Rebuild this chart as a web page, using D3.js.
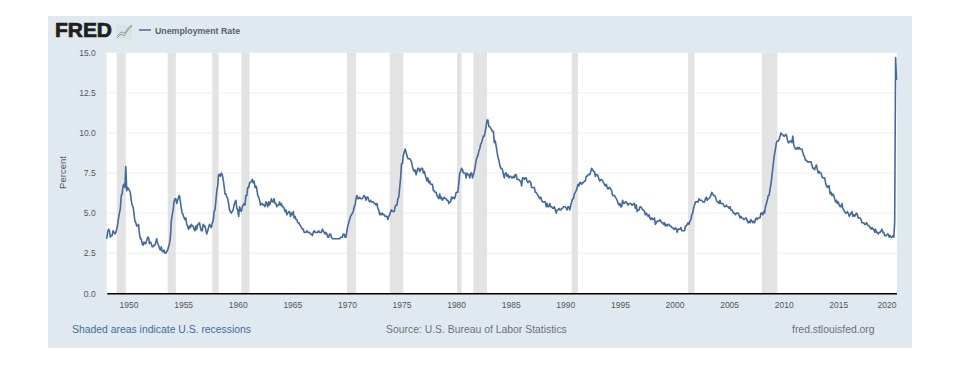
<!DOCTYPE html>
<html>
<head>
<meta charset="utf-8">
<script src="https://cdn.jsdelivr.net/npm/d3@7"></script>
<style>
  html, body { margin: 0; padding: 0; background: #fff; }
  svg { display: block; }
  text { font-family: "Liberation Sans", Arial, sans-serif; }
</style>
</head>
<body>
<div id="chart"></div>
<script>
// monthly rate, one row per year starting 1948
const startYear = 1948;
const rates = [
  3.4,3.8,4.0,3.9,3.5,3.6,3.6,3.9,3.8,3.7,3.8,4.0,
  4.3,4.7,5.0,5.3,6.1,6.2,6.7,6.8,6.6,7.9,6.4,6.6,
  6.5,6.4,6.3,5.8,5.5,5.4,5.0,4.5,4.4,4.2,4.2,4.3,
  3.7,3.4,3.4,3.1,3.0,3.2,3.1,3.1,3.3,3.5,3.5,3.1,
  3.2,3.1,2.9,2.9,3.0,3.0,3.2,3.4,3.1,3.0,2.8,2.7,
  2.9,2.6,2.6,2.7,2.5,2.5,2.6,2.7,2.9,3.1,3.5,4.5,
  4.9,5.2,5.7,5.9,5.9,5.6,5.8,6.0,6.1,5.7,5.3,5.0,
  4.9,4.7,4.6,4.7,4.3,4.2,4.0,4.2,4.1,4.3,4.2,4.2,
  4.0,3.9,4.2,4.0,4.3,4.3,4.4,4.1,3.9,3.9,4.3,4.2,
  4.2,3.9,3.7,3.9,4.1,4.3,4.2,4.1,4.4,4.5,5.1,5.2,
  5.8,6.4,6.7,7.4,7.4,7.3,7.5,7.4,7.1,6.7,6.2,6.2,
  6.0,5.9,5.6,5.2,5.1,5.0,5.1,5.2,5.5,5.7,5.8,5.3,
  5.2,4.8,5.4,5.2,5.1,5.4,5.5,5.6,5.5,6.1,6.1,6.6,
  6.6,6.9,6.9,7.0,7.1,6.9,7.0,6.6,6.7,6.5,6.1,6.0,
  5.8,5.5,5.6,5.6,5.5,5.5,5.4,5.7,5.6,5.4,5.7,5.5,
  5.7,5.9,5.7,5.7,5.9,5.6,5.6,5.4,5.5,5.5,5.7,5.5,
  5.6,5.4,5.4,5.3,5.1,5.2,4.9,5.0,5.1,5.1,4.8,5.0,
  4.9,5.1,4.7,4.8,4.6,4.6,4.4,4.4,4.3,4.2,4.1,4.0,
  4.0,3.8,3.8,3.8,3.9,3.8,3.8,3.8,3.7,3.7,3.6,3.8,
  3.9,3.8,3.8,3.8,3.8,3.9,3.8,3.8,3.8,4.0,3.9,3.8,
  3.7,3.8,3.7,3.5,3.5,3.7,3.7,3.5,3.4,3.4,3.4,3.4,
  3.4,3.4,3.4,3.4,3.4,3.5,3.5,3.5,3.7,3.7,3.5,3.5,
  3.9,4.2,4.4,4.6,4.8,4.9,5.0,5.1,5.4,5.5,5.9,6.1,
  5.9,5.9,6.0,5.9,5.9,5.9,6.0,6.1,6.0,5.8,6.0,6.0,
  5.8,5.7,5.8,5.7,5.7,5.7,5.6,5.6,5.5,5.6,5.3,5.2,
  4.9,5.0,4.9,5.0,4.9,4.9,4.8,4.8,4.8,4.6,4.8,4.9,
  5.1,5.2,5.1,5.1,5.1,5.4,5.5,5.5,5.9,6.0,6.6,7.2,
  8.1,8.1,8.6,8.8,9.0,8.8,8.6,8.4,8.4,8.4,8.3,8.2,
  7.9,7.7,7.6,7.7,7.4,7.6,7.8,7.8,7.6,7.7,7.8,7.8,
  7.5,7.6,7.4,7.2,7.0,7.2,6.9,7.0,6.8,6.8,6.8,6.4,
  6.4,6.3,6.3,6.1,6.0,5.9,6.2,5.9,6.0,5.8,5.9,6.0,
  5.9,5.9,5.8,5.8,5.6,5.7,5.7,6.0,5.9,6.0,5.9,6.0,
  6.3,6.3,6.3,6.9,7.5,7.6,7.8,7.7,7.5,7.5,7.5,7.2,
  7.5,7.4,7.4,7.2,7.5,7.5,7.2,7.4,7.6,7.9,8.3,8.5,
  8.6,8.9,9.0,9.3,9.4,9.6,9.8,9.8,10.1,10.4,10.8,10.8,
  10.4,10.4,10.3,10.2,10.1,10.1,9.4,9.5,9.2,8.8,8.5,8.3,
  8.0,7.8,7.8,7.7,7.4,7.2,7.5,7.5,7.3,7.4,7.2,7.3,
  7.3,7.2,7.2,7.3,7.2,7.4,7.4,7.1,7.1,7.1,7.0,7.0,
  6.7,7.2,7.2,7.1,7.2,7.2,7.0,6.9,7.0,7.0,6.9,6.6,
  6.6,6.6,6.6,6.3,6.3,6.2,6.1,6.0,5.9,6.0,5.8,5.7,
  5.7,5.7,5.7,5.4,5.6,5.4,5.4,5.6,5.4,5.4,5.3,5.3,
  5.4,5.2,5.0,5.2,5.2,5.3,5.2,5.2,5.3,5.3,5.4,5.4,
  5.4,5.3,5.2,5.4,5.4,5.2,5.5,5.7,5.9,5.9,6.2,6.3,
  6.4,6.6,6.8,6.7,6.9,6.9,6.8,6.9,6.9,7.0,7.0,7.3,
  7.3,7.4,7.4,7.4,7.6,7.8,7.7,7.6,7.6,7.3,7.4,7.4,
  7.3,7.1,7.0,7.1,7.1,7.0,6.9,6.8,6.7,6.8,6.6,6.5,
  6.6,6.6,6.5,6.4,6.1,6.1,6.1,6.0,5.9,5.8,5.6,5.5,
  5.6,5.4,5.4,5.8,5.6,5.6,5.7,5.7,5.6,5.5,5.6,5.6,
  5.6,5.5,5.5,5.6,5.6,5.3,5.5,5.1,5.2,5.2,5.4,5.4,
  5.3,5.2,5.2,5.1,4.9,5.0,4.9,4.8,4.9,4.7,4.6,4.7,
  4.6,4.6,4.7,4.3,4.4,4.5,4.5,4.5,4.6,4.5,4.4,4.4,
  4.3,4.4,4.2,4.3,4.2,4.3,4.3,4.2,4.2,4.1,4.1,4.0,
  4.0,4.1,4.0,3.8,4.0,4.0,4.0,4.1,3.9,3.9,3.9,3.9,
  4.2,4.2,4.3,4.4,4.3,4.5,4.6,4.9,5.0,5.3,5.5,5.7,
  5.7,5.7,5.7,5.9,5.8,5.8,5.8,5.7,5.7,5.7,5.9,6.0,
  5.8,5.9,5.9,6.0,6.1,6.3,6.2,6.1,6.1,6.0,5.8,5.7,
  5.7,5.6,5.8,5.6,5.6,5.6,5.5,5.4,5.4,5.5,5.4,5.4,
  5.3,5.4,5.2,5.2,5.1,5.0,5.0,4.9,5.0,5.0,5.0,4.9,
  4.7,4.8,4.7,4.7,4.6,4.6,4.7,4.7,4.5,4.4,4.5,4.4,
  4.6,4.5,4.4,4.5,4.4,4.6,4.7,4.6,4.7,4.7,4.7,5.0,
  5.0,4.9,5.1,5.0,5.4,5.6,5.8,6.1,6.1,6.5,6.8,7.3,
  7.8,8.3,8.7,9.0,9.4,9.5,9.5,9.6,9.8,10.0,9.9,9.9,
  9.8,9.8,9.9,9.9,9.6,9.4,9.4,9.5,9.5,9.4,9.8,9.3,
  9.1,9.0,9.0,9.1,9.0,9.1,9.0,9.0,9.0,8.8,8.6,8.5,
  8.3,8.3,8.2,8.2,8.2,8.2,8.2,8.0,7.8,7.8,7.7,7.9,
  8.0,7.7,7.5,7.6,7.5,7.5,7.3,7.2,7.2,7.2,6.9,6.7,
  6.6,6.7,6.7,6.2,6.3,6.1,6.2,6.1,5.9,5.7,5.8,5.6,
  5.7,5.5,5.4,5.4,5.6,5.3,5.2,5.1,5.0,5.0,5.1,5.0,
  4.8,4.9,5.0,5.1,4.8,4.9,4.8,4.9,5.0,4.9,4.7,4.7,
  4.7,4.6,4.4,4.4,4.4,4.3,4.3,4.4,4.3,4.2,4.2,4.1,
  4.0,4.1,4.0,4.0,3.8,4.0,3.8,3.8,3.7,3.8,3.8,3.9,
  4.0,3.8,3.8,3.6,3.6,3.6,3.7,3.7,3.5,3.6,3.5,3.5,
  3.6,3.5,4.4,14.7,13.3
];
const recessionStarts = ["1948-12","1953-08","1957-09","1960-05","1970-01","1973-12","1980-02","1981-08","1990-08","2001-04","2008-01"];
const recessionEnds   = ["1949-10","1954-05","1958-04","1961-02","1970-11","1975-03","1980-07","1982-11","1991-03","2001-11","2009-06"];
const xTickYears = [1950,1955,1960,1965,1970,1975,1980,1985,1990,1995,2000,2005,2010,2015,2020];
const yTicks = [0,2.5,5,7.5,10,12.5,15];

const width = 960, height = 372;
const plot = { left: 106.7, right: 896.5, top: 52.8, bottom: 293.3 };
const parseMonth = d3.utcParse("%Y-%m");
const monthDate = i => new Date(Date.UTC(startYear, i, 1));

const svg = d3.select("#chart").append("svg")
  .attr("width", width)
  .attr("height", height);

const x = d3.scaleUtc()
  .domain([monthDate(0), monthDate(rates.length - 1)])
  .range([plot.left, plot.right]);
const y = d3.scaleLinear().domain([0, 15]).range([plot.bottom, plot.top]);

// panel and plot background
svg.append("rect").attr("x", 48).attr("y", 16).attr("width", 864).attr("height", 332).attr("fill", "#e1e9f0");
svg.append("rect").attr("x", plot.left).attr("y", plot.top)
  .attr("width", plot.right + 0.5 - plot.left).attr("height", plot.bottom - plot.top).attr("fill", "#fff");

// gridlines
svg.append("g").selectAll("line")
  .data(yTicks.filter(d => d > 0 && d < 15))
  .join("line")
  .attr("x1", plot.left).attr("x2", plot.right)
  .attr("y1", d => y(d)).attr("y2", d => y(d))
  .attr("stroke", "#eeeeee").attr("stroke-width", 1);

// recessions
svg.append("g").selectAll("rect")
  .data(recessionStarts)
  .join("rect")
  .attr("x", d => x(parseMonth(d)))
  .attr("y", plot.top)
  .attr("width", (d, i) => x(parseMonth(recessionEnds[i])) - x(parseMonth(d)))
  .attr("height", plot.bottom - plot.top)
  .attr("fill", "#e3e3e3");

// y axis
const yAxis = svg.append("g")
  .attr("transform", `translate(${plot.left},0)`)
  .call(d3.axisLeft(y).tickValues(yTicks).tickFormat(d3.format(".1f")).tickSize(0).tickPadding(11));
yAxis.select(".domain").remove();
yAxis.selectAll("text").attr("font-size", 8.5).attr("fill", "#555").attr("font-family", "Liberation Sans");

// x axis
const xAxis = svg.append("g")
  .attr("transform", `translate(0,${plot.bottom})`)
  .call(d3.axisBottom(x)
    .tickValues(xTickYears.map(d => new Date(Date.UTC(d, 0, 1))))
    .tickFormat(d3.utcFormat("%Y"))
    .tickSize(0).tickPadding(8.5));
xAxis.select(".domain").attr("stroke", "#000").attr("stroke-width", 1.6);
xAxis.selectAll("text").attr("font-size", 8.5).attr("fill", "#555").attr("font-family", "Liberation Sans");
// last label is pushed inside the frame
xAxis.selectAll("text").filter(d => d.getUTCFullYear() === 2020).attr("text-anchor", "end").attr("dx", 3);

// series
const line = d3.line().x((d, i) => x(monthDate(i))).y(d => y(d));
svg.append("path")
  .datum(rates)
  .attr("d", line)
  .attr("fill", "none")
  .attr("stroke", "#44699b")
  .attr("stroke-width", 1.6)
  .attr("stroke-linejoin", "round");

// y title
svg.append("text")
  .attr("transform", "translate(65.5,172.5) rotate(-90)")
  .attr("text-anchor", "middle")
  .attr("font-size", 9.5).attr("fill", "#555")
  .text("Percent");

// logo
svg.append("text").attr("x", 55).attr("y", 37)
  .attr("font-size", 20).attr("font-weight", "bold")
  .attr("fill", "#1f1f1f").attr("stroke", "#1f1f1f").attr("stroke-width", 0.7)
  .attr("textLength", 57).attr("lengthAdjust", "spacingAndGlyphs")
  .text("FRED");
svg.append("rect").attr("x", 116).attr("y", 25).attr("width", 16).attr("height", 14).attr("fill", "#dae2e2");
svg.append("path").attr("d", "M117 38L121 34L124 36L128 30L132 26").attr("fill", "none").attr("stroke", "#86a88c").attr("stroke-width", 1);
svg.append("path").attr("d", "M117 36L121 32L125 33L128 28L132 25").attr("fill", "none").attr("stroke", "#8fa6c0").attr("stroke-width", 1);

// legend
svg.append("line").attr("x1", 139).attr("x2", 151).attr("y1", 30).attr("y2", 30)
  .attr("stroke", "#44699b").attr("stroke-width", 1.5);
svg.append("text").attr("x", 155).attr("y", 33.5)
  .attr("font-size", 8.8).attr("font-weight", "bold").attr("fill", "#5a5f66")
  .text("Unemployment Rate");

// footer
svg.append("text").attr("x", 72).attr("y", 333)
  .attr("font-size", 10.4).attr("fill", "#3f6c9f")
  .text("Shaded areas indicate U.S. recessions");
svg.append("text").attr("x", 386).attr("y", 333)
  .attr("font-size", 10.4).attr("fill", "#6c7078")
  .text("Source: U.S. Bureau of Labor Statistics");
svg.append("text").attr("x", 792).attr("y", 333)
  .attr("font-size", 10.4).attr("fill", "#6c7078")
  .text("fred.stlouisfed.org");
</script>
</body>
</html>
